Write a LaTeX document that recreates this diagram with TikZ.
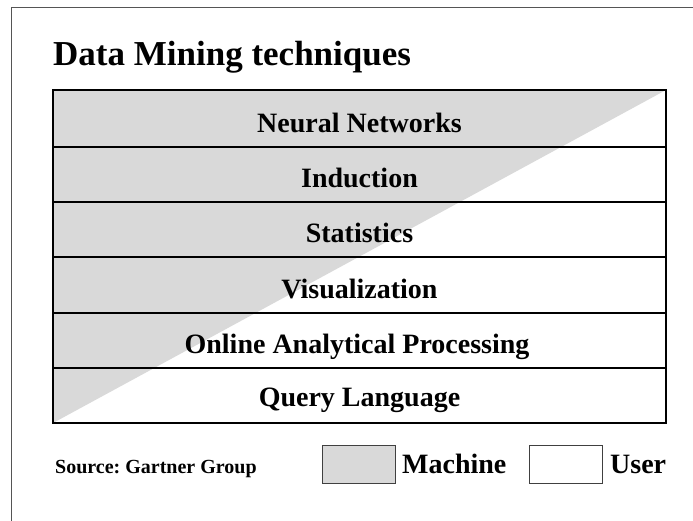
\documentclass[tikz,border=0pt]{standalone}
\usepackage{fontspec}
\setmainfont{Liberation Serif}
\definecolor{mgray}{HTML}{D9D9D9}
\definecolor{framegray}{HTML}{555555}
\frenchspacing
\begin{document}
\begin{tikzpicture}[x=1pt,y=-1pt,
  rowtext/.style={anchor=base, inner sep=0pt, font=\fontsize{28}{30}\selectfont\bfseries},
  legtext/.style={anchor=base west, inner sep=0pt, font=\fontsize{28}{30}\selectfont\bfseries},
  legbox/.style={draw=black!75, line width=1.2pt, minimum width=73pt, minimum height=38pt, inner sep=0pt, anchor=north west},
  rowline/.style={line width=1.5pt},
  tableframe/.style={line width=2.5pt}]
\useasboundingbox (0,0) rectangle (693,520);
\fill[white] (0,0) rectangle (693,520);
\draw[framegray, line width=1.6pt] (11.5,522) -- (11.5,7.5) -- (695,7.5);
\node[anchor=base west, inner sep=0pt, font=\fontsize{35}{40}\selectfont\bfseries] (title) at (53,65) {Data Mining techniques};
% table
\coordinate (tl) at (53,90);
\coordinate (tr) at (666,90);
\coordinate (bl) at (53,423);
\coordinate (br) at (666,423);
\fill[mgray] (tl) -- (tr) -- (bl) -- cycle;
\foreach \yy in {147,202,257,313,368} {
  \draw[rowline] (53,\yy) -- (666,\yy);
}
\draw[tableframe] (tl) rectangle (br);
\node[rowtext] (nn) at (359.5,132) {Neural Networks};
\node[rowtext] (ind) at (359.5,187) {Induction};
\node[rowtext] (stat) at (359.5,242) {Statistics};
\node[rowtext] (vis) at (359.5,298) {Visualization};
\node[rowtext] (olap) at (357,353) {Online Analytical Processing};
\node[rowtext] (ql) at (359.5,406) {Query Language};
% legend
\node[anchor=base west, inner sep=0pt, font=\fontsize{20}{22}\selectfont\bfseries] (src) at (55,473) {Source: Gartner Group};
\node[legbox, fill=mgray] (mbox) at (322,445) {};
\node[legtext] (mtext) at (402,473) {Machine};
\node[legbox, fill=white] (ubox) at (529,445) {};
\node[legtext] (utext) at (610,473) {User};
\end{tikzpicture}
\end{document}
